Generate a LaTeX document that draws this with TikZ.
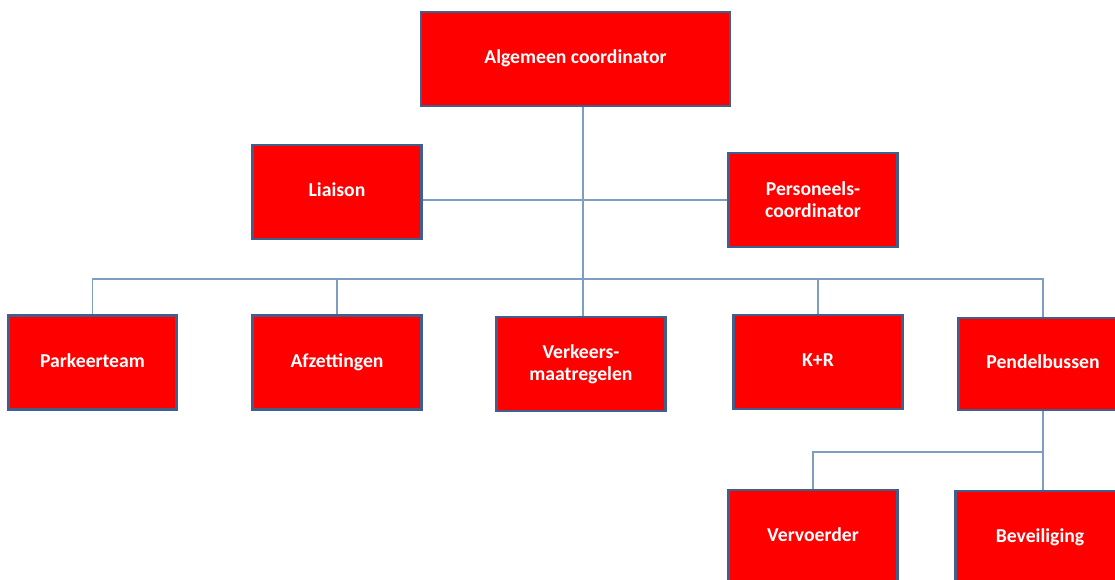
\documentclass[tikz,border=0pt]{standalone}
\usepackage{fontspec}
\setmainfont{Carlito}
\usetikzlibrary{calc}
\definecolor{boxred}{RGB}{255,0,0}
\definecolor{boxedge}{RGB}{65,95,140}
\definecolor{linkblue}{RGB}{125,158,192}
\tikzset{
  unit/.style={rectangle, draw=boxedge, line width=1.6pt, fill=boxred, text=white,
    font=\bfseries\fontsize{11.2}{12.6}\selectfont, align=center, inner sep=0pt,
    text height=1.55ex, text depth=0.45ex,
    minimum width=3.37cm, minimum height=1.88cm},
  twoline/.style={text height=, text depth=},
  link/.style={draw=linkblue, line width=0.75pt}
}

\begin{document}
\begin{tikzpicture}[x=0.02cm, y=-0.02cm]
\useasboundingbox[fill=white] (0,0) rectangle (1115,579);
\clip (0,0) rectangle (1115,579);

\node[unit, minimum width=6.18cm] (top) at (575.5,59) {Algemeen coordinator};
\node[unit] (liaison) at (337,192) {Liaison};
\node[unit, twoline] (pers) at (813,200) {Personeels-\\coordinator};

\node[unit] (park) at (92.5,362.5) {Parkeerteam};
\node[unit] (afz) at (337,362.5) {Afzettingen};
\node[unit, twoline] (verk) at (581,364) {Verkeers-\\maatregelen};
\node[unit] (kr) at (818,362) {K+R};
\node[unit, minimum height=1.84cm] (pendel) at (1043,364) {Pendelbussen};

\node[unit] (vervoer) at (813,537) {Vervoerder};
\node[unit] (bev) at (1040,538) {Beveiliging};

\coordinate (bus) at (0,279);
\coordinate (subbus) at (0,452);

\draw[link] ($(verk.north |- top.south)+(2,0)$) -- ($(verk.north)+(2,0)$);
\draw[link] (liaison.east |- pers.west) -- (pers.west);
\draw[link] (park.north) -- (park.north |- bus) -- (pendel.north |- bus) -- (pendel.north);
\foreach \n in {afz,kr}
  \draw[link] (\n.north) -- (\n.north |- bus);

\draw[link] (pendel.south) -- (pendel.south |- bev.north);
\draw[link] (pendel.south |- subbus) -| (vervoer.north);
\end{tikzpicture}
\end{document}
